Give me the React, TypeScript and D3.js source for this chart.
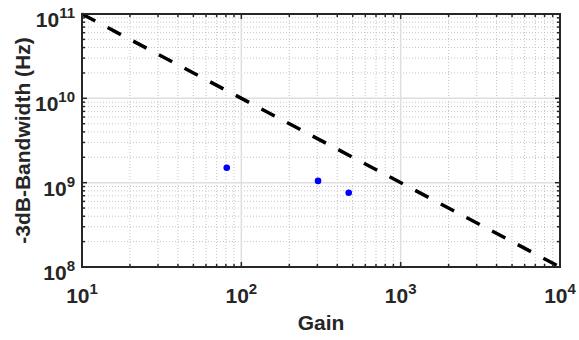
import React from "react";
import * as d3 from "d3";

const gainPoints = [81, 303, 472];
const bandwidthPoints = [1.5e9, 1.05e9, 7.6e8];
const gbwLineGain = [10, 10000];
const gbwLineBandwidth = [1e11, 1e8];
const xTickExps = [1, 2, 3, 4];
const yTickExps = [8, 9, 10, 11];

const W = 579, H = 340;
const L = 82, R = 560, T = 14, B = 267;
const FONT = "'Liberation Sans', Arial, Helvetica, sans-serif";
const TXT = "#262626";

export default function App() {
  const x = d3.scaleLog().domain([10, 1e4]).range([L, R]);
  const y = d3.scaleLog().domain([1e8, 1e11]).range([B, T]);

  const minorX: number[] = [];
  for (let e = 1; e < 4; e++) for (let m = 2; m <= 9; m++) minorX.push(m * Math.pow(10, e));
  const minorY: number[] = [];
  for (let e = 8; e < 11; e++) for (let m = 2; m <= 9; m++) minorY.push(m * Math.pow(10, e));
  const majorX = xTickExps.map((e) => Math.pow(10, e));
  const majorY = yTickExps.map((e) => Math.pow(10, e));

  const line = d3
    .line<number>()
    .x((_, i) => x(gbwLineGain[i]))
    .y((_, i) => y(gbwLineBandwidth[i]));

  return (
    <svg
      width={W}
      height={H}
      style={{ position: "absolute", left: 0, top: 0, background: "#fff" }}
    >
      <rect x={0} y={0} width={W} height={H} fill="#fff" />
      {/* minor grid */}
      {minorX.map((v) => (
        <line key={"mgx" + v} x1={x(v)} x2={x(v)} y1={T} y2={B} stroke="#c4c4c4" strokeWidth={1} strokeDasharray="1 2" />
      ))}
      {minorY.map((v) => (
        <line key={"mgy" + v} x1={L} x2={R} y1={y(v)} y2={y(v)} stroke="#c4c4c4" strokeWidth={1} strokeDasharray="1 2" />
      ))}
      {/* major grid */}
      {majorX.map((v) => (
        <line key={"gx" + v} x1={x(v)} x2={x(v)} y1={T} y2={B} stroke="#dedede" strokeWidth={1.5} />
      ))}
      {majorY.map((v) => (
        <line key={"gy" + v} x1={L} x2={R} y1={y(v)} y2={y(v)} stroke="#dedede" strokeWidth={1.5} />
      ))}

      {/* GBW line */}
      <path
        d={line(gbwLineGain) || ""}
        fill="none"
        stroke="#000"
        strokeWidth={3.5}
        strokeDasharray="15 14"
      />

      {/* points */}
      {gainPoints.map((g, i) => (
        <circle key={"p" + i} cx={x(g)} cy={y(bandwidthPoints[i])} r={3.3} fill="#0000ff" />
      ))}

      {/* ticks */}
      {majorX.map((v) => (
        <g key={"tx" + v}>
          <line x1={x(v)} x2={x(v)} y1={B} y2={B - 5} stroke={TXT} strokeWidth={1.5} />
          <line x1={x(v)} x2={x(v)} y1={T} y2={T + 5} stroke={TXT} strokeWidth={1.5} />
        </g>
      ))}
      {minorX.map((v) => (
        <g key={"mtx" + v}>
          <line x1={x(v)} x2={x(v)} y1={B} y2={B - 3} stroke={TXT} strokeWidth={1.5} />
          <line x1={x(v)} x2={x(v)} y1={T} y2={T + 3} stroke={TXT} strokeWidth={1.5} />
        </g>
      ))}
      {majorY.map((v) => (
        <g key={"ty" + v}>
          <line x1={L} x2={L + 5} y1={y(v)} y2={y(v)} stroke={TXT} strokeWidth={1.5} />
          <line x1={R} x2={R - 5} y1={y(v)} y2={y(v)} stroke={TXT} strokeWidth={1.5} />
        </g>
      ))}
      {minorY.map((v) => (
        <g key={"mty" + v}>
          <line x1={L} x2={L + 3} y1={y(v)} y2={y(v)} stroke={TXT} strokeWidth={1.5} />
          <line x1={R} x2={R - 3} y1={y(v)} y2={y(v)} stroke={TXT} strokeWidth={1.5} />
        </g>
      ))}

      {/* axes box */}
      <rect x={L} y={T} width={R - L} height={B - T} fill="none" stroke={TXT} strokeWidth={2} />

      {/* tick labels */}
      {xTickExps.map((e) => (
        <text
          key={"lx" + e}
          x={x(Math.pow(10, e))}
          y={303}
          textAnchor="middle"
          fontFamily={FONT}
          fontWeight="bold"
          fontSize={21}
          fill={TXT}
        >
          10
          <tspan fontSize={15} dy={-9}>{e}</tspan>
        </text>
      ))}
      {yTickExps.map((e) => (
        <text
          key={"ly" + e}
          x={75}
          y={y(Math.pow(10, e)) + 13}
          textAnchor="end"
          fontFamily={FONT}
          fontWeight="bold"
          fontSize={21}
          fill={TXT}
        >
          10
          <tspan fontSize={15} dy={-9}>{e}</tspan>
        </text>
      ))}

      {/* axis labels */}
      <text
        x={(L + R) / 2}
        y={330}
        textAnchor="middle"
        fontFamily={FONT}
        fontWeight="bold"
        fontSize={21}
        fill={TXT}
      >
        Gain
      </text>
      <text
        transform={`translate(30, ${(T + B) / 2}) rotate(-90)`}
        textAnchor="middle"
        fontFamily={FONT}
        fontWeight="bold"
        fontSize={21}
        fill={TXT}
      >
        -3dB-Bandwidth (Hz)
      </text>
    </svg>
  );
}
